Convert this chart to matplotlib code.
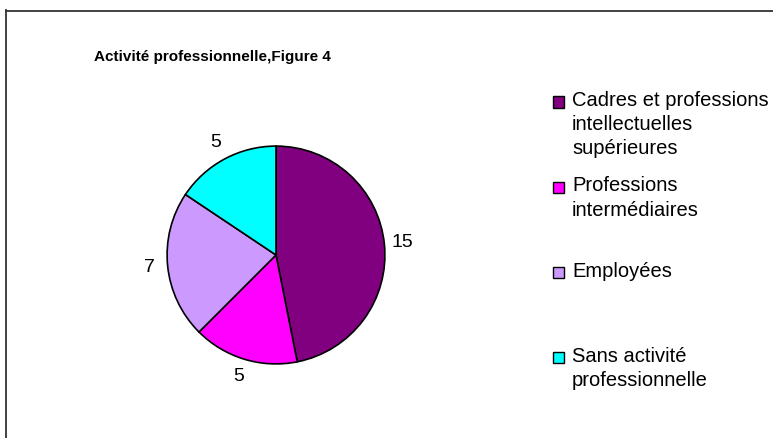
import matplotlib
matplotlib.use('Agg')
import matplotlib.pyplot as plt
from matplotlib.patches import Rectangle
from matplotlib.lines import Line2D

plt.rcParams['font.family'] = ['Liberation Sans', 'DejaVu Sans']

categories = ['Cadres et professions\nintellectuelles\nsupérieures',
              'Professions\nintermédiaires',
              'Employées',
              'Sans activité\nprofessionnelle']
values = [15, 5, 7, 5]
colors = ['#800080', '#FF00FF', '#CC99FF', '#00FFFF']
title = 'Activité professionnelle,Figure 4'

W, H = 773, 438
fig = plt.figure(figsize=(W / 100, H / 100), dpi=100)

# cadre gris autour du graphique (coupé à droite et en bas)
fig.add_artist(Line2D([6.5 / W, 6.5 / W], [0, 1 - 10 / H], color='#333333', lw=1.3))
fig.add_artist(Line2D([6 / W, 1], [1 - 10.5 / H, 1 - 10.5 / H], color='#333333', lw=1.3))

# camembert
cx, cy, r = 276, 255, 110
ax = fig.add_axes([(cx - r) / W, (H - cy - r) / H, 2 * r / W, 2 * r / H])
wedges, texts = ax.pie(values, colors=colors, startangle=90, counterclock=False,
                       wedgeprops=dict(edgecolor='black', linewidth=1.2),
                       labels=[str(v) for v in values], labeldistance=1.17,
                       textprops=dict(fontsize=14))
for t in texts:
    t.set_ha('center')
    t.set_va('center')
ax.set_xlim(-1.01, 1.01)
ax.set_ylim(-1.01, 1.01)
ax.set_aspect('equal')
ax.axis('off')

fig.text(212 / W, 1 - 57 / H, title, fontsize=11, fontweight='bold',
         ha='center', va='center')

# légende
leg_y0 = 102
leg_step = 85.3
for i, (lab, col) in enumerate(zip(categories, colors)):
    yc = leg_y0 + i * leg_step
    fig.add_artist(Rectangle((553 / W, 1 - (yc + 5.5) / H), 11 / W, 11 / H,
                             facecolor=col, edgecolor='black', lw=1.0,
                             transform=fig.transFigure))
    fig.text(572 / W, 1 - (yc - 11) / H, lab, fontsize=14.5, ha='left', va='top',
             linespacing=1.35)

fig.savefig('out.png', dpi=100)
